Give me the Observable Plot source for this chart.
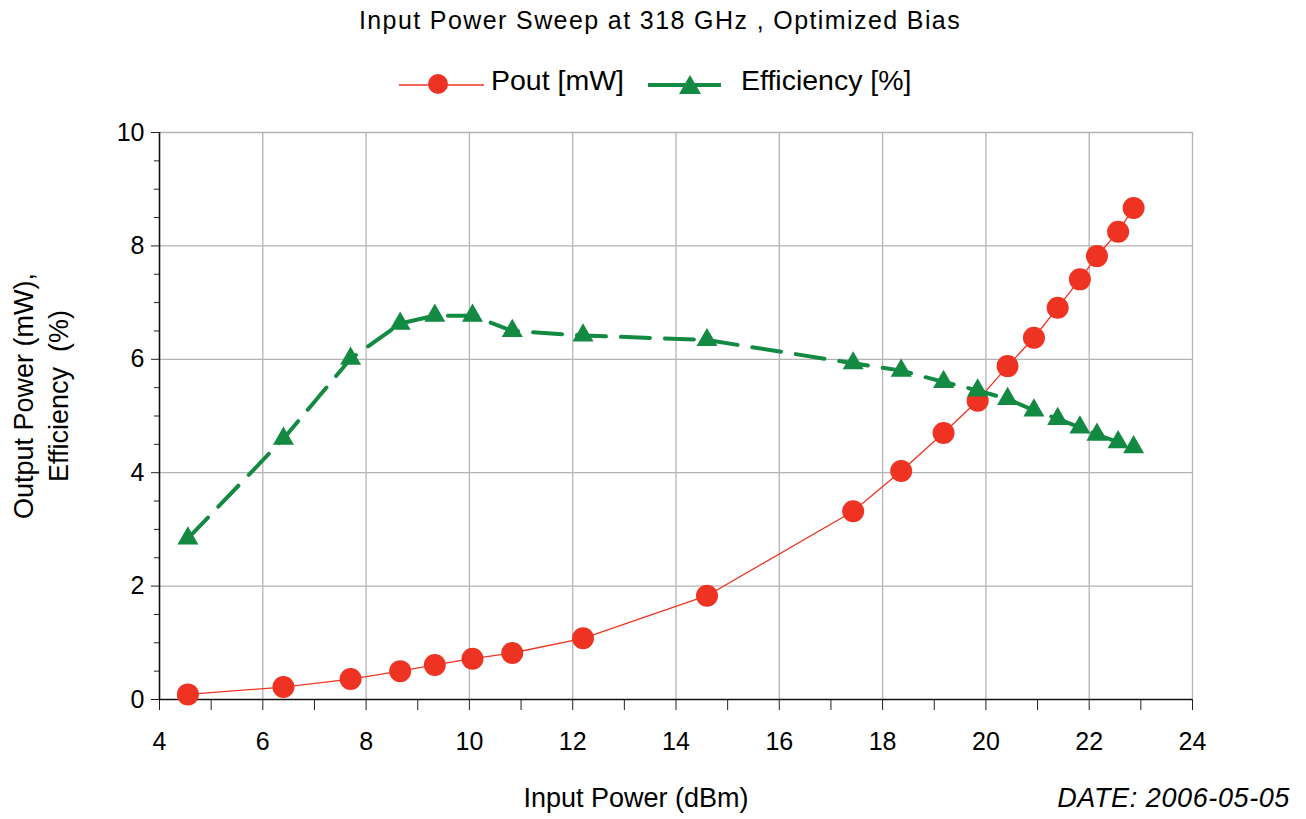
<!DOCTYPE html>
<html>
<head>
<meta charset="utf-8">
<script src="https://cdn.jsdelivr.net/npm/d3@7"></script>
<script src="https://cdn.jsdelivr.net/npm/@observablehq/plot@0.6"></script>
<style>
  html, body { margin: 0; padding: 0; background: white; }
  #wrap { position: relative; width: 1306px; height: 819px; overflow: hidden; font-family: "Liberation Sans", Arial, sans-serif; color: #000; }
  #chart { position: absolute; left: 0; top: 0; }
  .abs { position: absolute; white-space: nowrap; }
  #title { left: 0; width: 1320px; top: 6px; text-align: center; font-size: 25px; letter-spacing: 1.4px; }
  #xlabel { left: 436px; width: 400px; top: 783px; text-align: center; font-size: 27px; }
  #date { right: 16px; top: 783px; font-size: 27px; font-style: italic; letter-spacing: 0.6px; }
  #ylabel { left: 42px; top: 396px; width: 340px; text-align: center; font-size: 27px; line-height: 35px;
            transform: translate(-50%, -50%) rotate(-90deg); }
  #legend { left: 0; top: 58px; }
</style>
</head>
<body>
<div id="wrap">
  <div id="chart"></div>
  <div id="title" class="abs">Input Power Sweep at 318 GHz , Optimized Bias</div>
  <svg id="legend" class="abs" width="1306" height="50" font-family="Liberation Sans, Arial, sans-serif" font-size="28.5">
    <line x1="399" x2="484" y1="27" y2="27" stroke="#ef3323" stroke-width="1.3"></line>
    <circle cx="438" cy="26" r="10" fill="#ef3323"></circle>
    <text x="491" y="32">Pout [mW]</text>
    <line x1="648" x2="721" y1="27" y2="27" stroke="#138a42" stroke-width="4"></line>
    <path d="M690,17 L701,36 L679,36 Z" fill="#138a42"></path>
    <text x="741" y="32">Efficiency [%]</text>
  </svg>
  <div id="xlabel" class="abs">Input Power (dBm)</div>
  <div id="date" class="abs">DATE: 2006-05-05</div>
  <div id="ylabel" class="abs">Output Power (mW),<br>Efficiency &nbsp;(%)</div>
</div>
<script>
// Input power (dBm) for each measurement
const inputPower = [4.55, 6.40, 7.70, 8.66, 9.33, 10.06, 10.83, 12.20, 14.60, 17.43, 18.36, 19.18, 19.84, 20.42, 20.93, 21.39, 21.82, 22.15, 22.56, 22.86];
// Output power (mW)
const poutMW = [0.09, 0.22, 0.36, 0.50, 0.61, 0.72, 0.82, 1.08, 1.83, 3.32, 4.03, 4.70, 5.27, 5.88, 6.38, 6.91, 7.41, 7.82, 8.25, 8.67];
// Efficiency (%)
const efficiencyPct = [2.84, 4.60, 6.01, 6.63, 6.77, 6.77, 6.50, 6.42, 6.34, 5.93, 5.80, 5.60, 5.45, 5.30, 5.10, 4.95, 4.80, 4.67, 4.54, 4.45];
// Tick values
const xMajorTicks = [4, 6, 8, 10, 12, 14, 16, 18, 20, 22, 24];
const xMinorTicks = [5, 7, 9, 11, 13, 15, 17, 19, 21, 23];
const yMajorTicks = [0, 2, 4, 6, 8, 10];
const yMinorTicks = [0.5, 1, 1.5, 2.5, 3, 3.5, 4.5, 5, 5.5, 6.5, 7, 7.5, 8.5, 9, 9.5];

const pout = inputPower.map((x, i) => ({x, y: poutMW[i]}));
const eff = inputPower.map((x, i) => ({x, y: efficiencyPct[i]}));

const RED = "#ef3323";
const GREEN = "#138a42";
const GRID = "#b4b4b4";

const chart = Plot.plot({
  width: 1306,
  height: 819,
  marginTop: 132,
  marginBottom: 120,
  marginLeft: 159,
  marginRight: 114,
  style: {fontFamily: "Liberation Sans, Arial, sans-serif", fontSize: "25px", background: "white", color: "black", overflow: "visible"},
  x: {domain: [4, 24], label: null},
  y: {domain: [0, 10], label: null},
  marks: [
    Plot.gridX(xMajorTicks.filter(d => d > 4), {stroke: GRID, strokeOpacity: 1, strokeWidth: 1.3}),
    Plot.gridY(yMajorTicks.filter(d => d > 0), {stroke: GRID, strokeOpacity: 1, strokeWidth: 1.3}),
    Plot.axisY(yMinorTicks, {tickSize: 5, tickFormat: () => "", label: null, stroke: "#222"}),
    Plot.axisY(yMajorTicks, {tickSize: 8, tickPadding: 7, tickFormat: d => String(d), label: null, fontSize: 25, stroke: "#222"}),
    Plot.axisX(xMinorTicks, {tickSize: 11, tickFormat: () => "", label: null, stroke: "#222"}),
    Plot.axisX(xMajorTicks, {tickSize: 11, tickPadding: 22, tickFormat: d => String(d), label: null, fontSize: 25, stroke: "#222"}),
    Plot.ruleX([4], {stroke: "#111", strokeWidth: 1.6}),
    Plot.ruleY([0], {stroke: "#111", strokeWidth: 1.6}),
    Plot.line(pout, {x: "x", y: "y", stroke: RED, strokeWidth: 1.3}),
    Plot.dot(pout, {x: "x", y: "y", r: 11, fill: RED, stroke: "none"}),
    Plot.line(eff, {x: "x", y: "y", stroke: GREEN, strokeWidth: 4, strokeDasharray: "29,15"}),
    Plot.dot(eff, {x: "x", y: "y", symbol: "triangle", r: 7.8, fill: GREEN, stroke: "none"})
  ]
});
document.getElementById("chart").appendChild(chart);
</script>
</body>
</html>
